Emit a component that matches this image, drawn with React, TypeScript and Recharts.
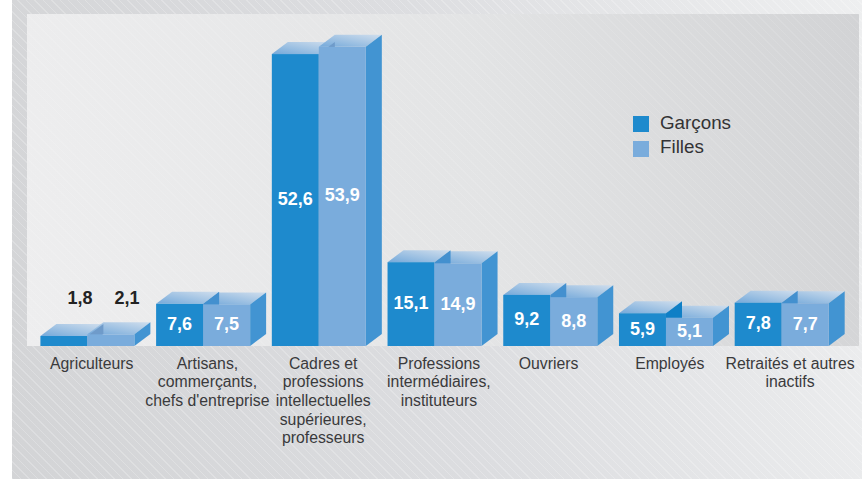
import { BarChart, Bar, XAxis, YAxis, Legend, LabelList } from "recharts";

const categories = [
  "Agriculteurs",
  "Artisans,\ncommerçants,\nchefs d'entreprise",
  "Cadres et\nprofessions\nintellectuelles\nsupérieures,\nprofesseurs",
  "Professions\nintermédiaires,\ninstituteurs",
  "Ouvriers",
  "Employés",
  "Retraités et autres\ninactifs",
];
const garcons = [1.8, 7.6, 52.6, 15.1, 9.2, 5.9, 7.8];
const filles = [2.1, 7.5, 53.9, 14.9, 8.8, 5.1, 7.7];

const rows = categories.map((name, i) => ({ name, garcons: garcons[i], filles: filles[i] }));

// les libelles ne sont pas tout a fait centres sous les barres
const tickNudge = [4.5, 4.5, 4.5, 4.5, -1.5, 4, 8.5];

const DX = 16;
const DY = 12;
const BLUE = "#1e8acd";
const LIGHT = "#7aacdc";
const SIDE = "#4294d2";

const poly = (pts: number[][]) => pts.map((p) => p.join(",")).join(" ");

function topFace(x: number, y: number, w: number) {
  return poly([[x, y], [x + DX, y - DY], [x + w + DX, y - DY], [x + w, y]]);
}

function sideFace(x: number, y: number, bottom: number) {
  return poly([[x, y], [x + DX, y - DY], [x + DX, bottom - DY], [x, bottom]]);
}

function GarconBar(props: any) {
  const { x, y, width, height } = props;
  return (
    <g>
      <polygon points={topFace(x, y, width)} fill="url(#topFace)" />
      <rect x={x} y={y} width={width} height={height} fill={BLUE} />
    </g>
  );
}

function FilleBar(props: any) {
  const { x, y, width, height, payload } = props;
  const bottom = y + height;
  // hauteur de la barre voisine, dans la meme echelle
  const prevY = bottom - (height * payload.garcons) / payload.filles;
  const diff = payload.garcons - payload.filles;
  const seam = diff > 0.5 ? "#0f7fc6" : diff > 0 ? "#4390cf" : "#6f9bca";
  return (
    <g>
      <polygon points={topFace(x, y, width)} fill="url(#topFace)" />
      <polygon points={sideFace(x + width, y, bottom)} fill={SIDE} />
      <polygon points={sideFace(x, prevY, bottom)} fill={seam} />
      <rect x={x} y={y} width={width} height={height} fill={LIGHT} />
    </g>
  );
}

function ValueLabel(props: any) {
  const { x, y, width, height, value } = props;
  const outside = value < 3;
  return (
    <text
      x={x + width / 2 + (outside ? DX : 0)}
      y={outside ? 298 : y + height / 2 - 1}
      textAnchor="middle"
      dominantBaseline="central"
      fontFamily="Liberation Sans"
      fontWeight="bold"
      fontSize={18}
      fill={outside ? "#222222" : "#ffffff"}
    >
      {String(value).replace(".", ",")}
    </text>
  );
}

function CategoryTick(props: any) {
  const { x, payload, index } = props;
  return (
    <text textAnchor="middle" fontFamily="Liberation Sans" fontSize={15.8} fill="#3a3a3c">
      {payload.value.split("\n").map((line: string, i: number) => (
        <tspan key={i} x={x + tickNudge[index]} y={368.5 + i * 18.7}>
          {line}
        </tspan>
      ))}
    </text>
  );
}

function LegendBox() {
  const items = [
    { label: "Garçons", color: BLUE },
    { label: "Filles", color: LIGHT },
  ];
  return (
    <div style={{ height: 0 }}>
      {items.map((item, i) => (
        <div key={item.label} style={{ display: "flex", alignItems: "center", height: 25 }}>
          <span style={{ width: 16, height: 16, background: item.color, marginRight: 11 }} />
          <span
            style={{
              position: "relative",
              top: i === 0 ? -1.5 : -2.5,
              fontFamily: "Liberation Sans",
              fontSize: 18.8,
              color: "#333335",
            }}
          >
            {item.label}
          </span>
        </div>
      ))}
    </div>
  );
}

const hatchOuter =
  "repeating-linear-gradient(45deg, rgba(255,255,255,0.22) 0 1px, rgba(255,255,255,0) 1px 6px)";
const hatchInner =
  "repeating-linear-gradient(45deg, rgba(255,255,255,0.1) 0 1px, rgba(255,255,255,0) 1px 6px)";

export default function App() {
  return (
    <div style={{ position: "absolute", left: 0, top: 0, width: 862, height: 479, background: "#ffffff" }}>
      <div
        style={{
          position: "absolute",
          left: 12,
          top: 0,
          width: 850,
          height: 479,
          background: `${hatchOuter}, linear-gradient(78deg, #d3d4d6 0%, #dcdde0 50%, #eeeff0 100%)`,
        }}
      />
      <div
        style={{
          position: "absolute",
          left: 27,
          top: 14,
          width: 832,
          height: 332,
          background: `${hatchInner}, linear-gradient(80deg, #eeeeef 0%, #e3e4e5 55%, #d2d3d5 100%)`,
        }}
      />
      <div style={{ position: "absolute", left: 0, top: 0 }}>
        <BarChart
          width={862}
          height={479}
          data={rows}
          margin={{ top: 13, right: 22.6, bottom: 0, left: 29.4 }}
          barCategoryGap={11}
          barGap={0}
        >
          <defs>
            <linearGradient id="topFace" x1="0" y1="1" x2="1" y2="0">
              <stop offset="0%" stopColor="#74a9da" />
              <stop offset="100%" stopColor="#d0deed" />
            </linearGradient>
          </defs>
          <XAxis
            dataKey="name"
            height={133}
            interval={0}
            axisLine={false}
            tickLine={false}
            tick={<CategoryTick />}
          />
          <YAxis hide domain={[0, 60]} />
          <Legend
            content={<LegendBox />}
            layout="vertical"
            wrapperStyle={{ left: 633, top: 111.5, width: 130, height: 0, bottom: "auto", right: "auto" }}
          />
          <Bar dataKey="garcons" isAnimationActive={false} shape={<GarconBar />}>
            <LabelList dataKey="garcons" content={<ValueLabel />} />
          </Bar>
          <Bar dataKey="filles" isAnimationActive={false} shape={<FilleBar />}>
            <LabelList dataKey="filles" content={<ValueLabel />} />
          </Bar>
        </BarChart>
      </div>
    </div>
  );
}
